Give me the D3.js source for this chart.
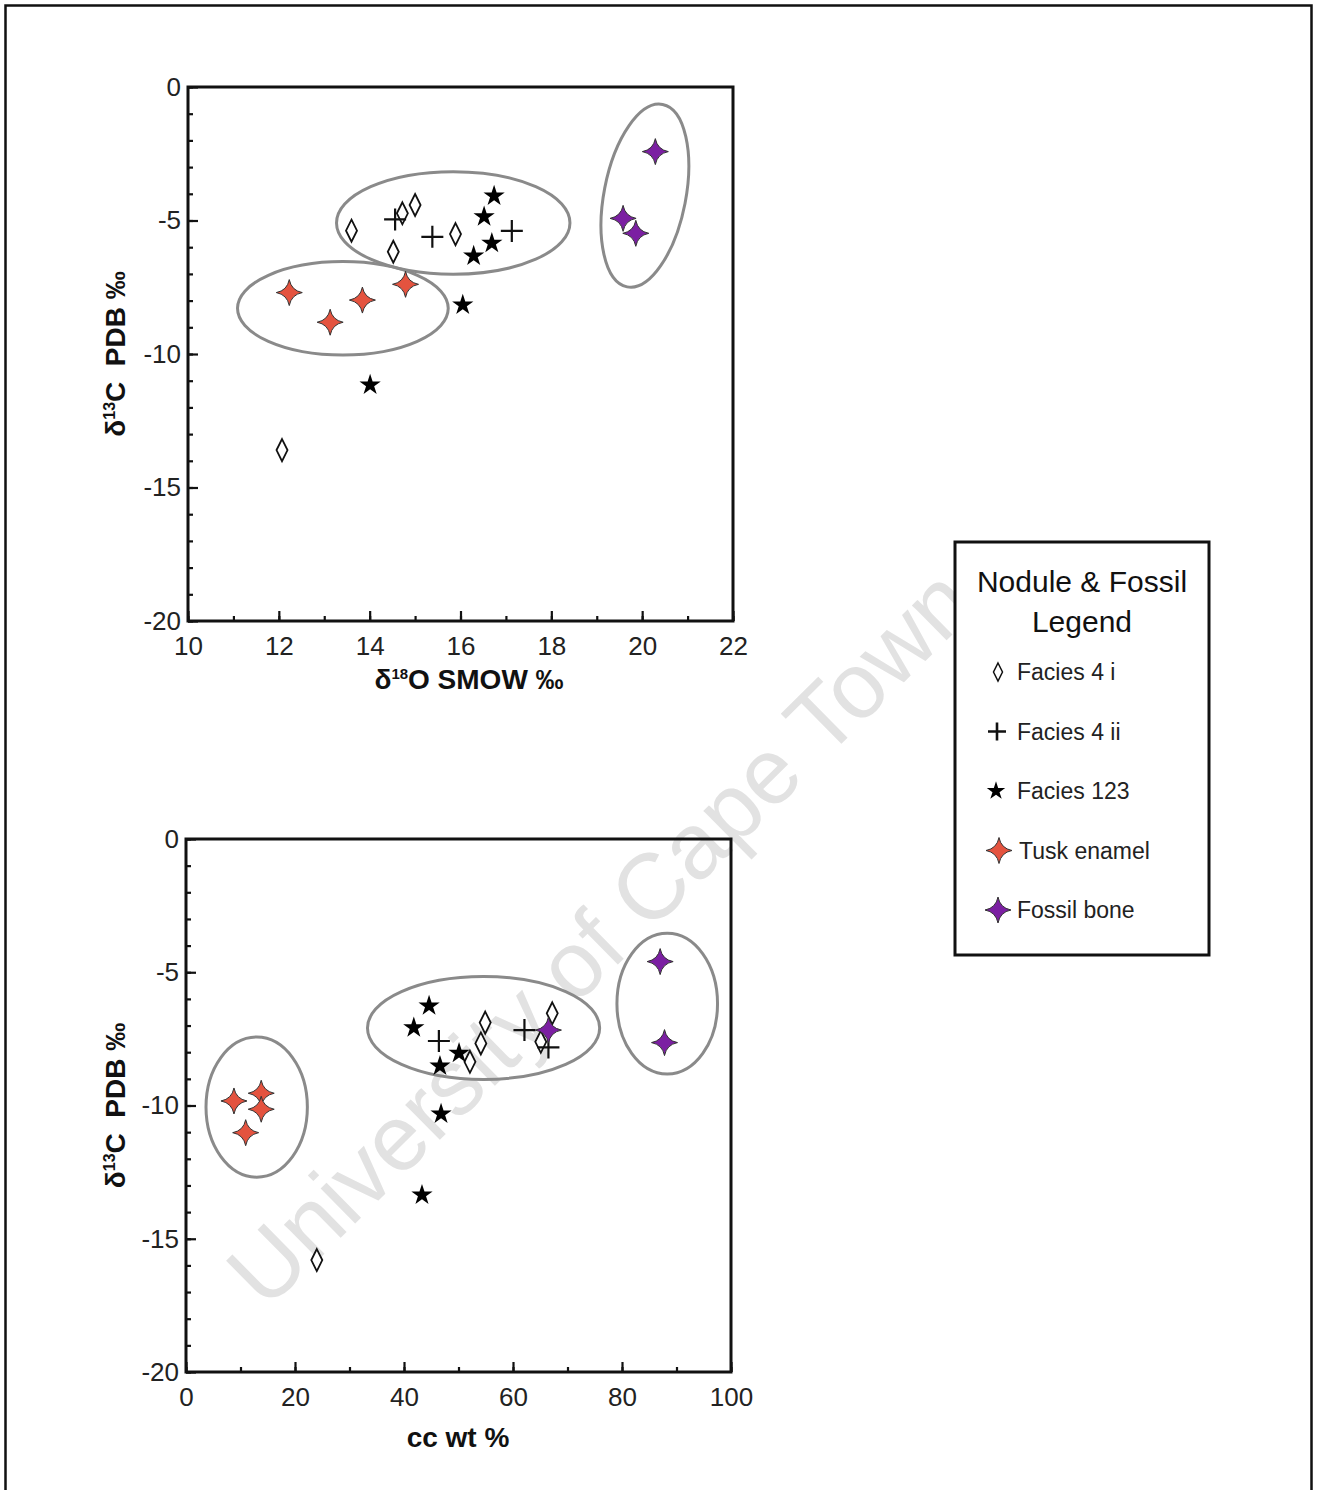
<!DOCTYPE html>
<html><head><meta charset="utf-8">
<script src="https://cdn.jsdelivr.net/npm/d3@7"></script>
<style>body{margin:0;background:#fff}svg{display:block}text{font-family:"Liberation Sans",Arial,sans-serif}</style>
</head><body><svg id="c" width="1317" height="1490"></svg>
<script>
// ---------- DATA ----------
// Top chart: d18O (SMOW) vs d13C (PDB)
const topFacies4i_O   = [13.6, 14.52, 14.72, 15.0, 15.89, 12.07];
const topFacies4i_C   = [-5.38, -6.17, -4.73, -4.42, -5.51, -13.6];
const topFacies4ii_O  = [14.56, 15.38, 17.13];
const topFacies4ii_C  = [-4.96, -5.61, -5.39];
const topFacies123_O  = [16.74, 16.52, 16.69, 16.29, 16.05, 14.01];
const topFacies123_C  = [-4.08, -4.86, -5.85, -6.33, -8.16, -11.16];
const topTusk_O       = [12.23, 13.84, 13.13, 14.79];
const topTusk_C       = [-7.70, -7.98, -8.81, -7.39];
const topBone_O       = [20.29, 19.58, 19.86];
const topBone_C       = [-2.42, -4.92, -5.48];
// Bottom chart: cc wt % vs d13C (PDB)
const botFacies4i_cc  = [54.9, 54.1, 52.1, 67.2, 65.1, 24.0];
const botFacies4i_C   = [-6.89, -7.67, -8.36, -6.54, -7.61, -15.8];
const botFacies4ii_cc = [46.4, 62.1, 66.5];
const botFacies4ii_C  = [-7.58, -7.17, -7.82];
const botFacies123_cc = [44.6, 41.8, 50.1, 46.6, 46.8, 43.3];
const botFacies123_C  = [-6.26, -7.08, -8.04, -8.52, -10.32, -13.36];
const botTusk_cc      = [8.8, 13.8, 13.8, 10.95];
const botTusk_C       = [-9.83, -9.54, -10.14, -11.02];
const botBone_cc      = [87.0, 87.8, 66.5];
const botBone_C       = [-4.6, -7.64, -7.17];
// Grouping ellipses: [centerX, centerY, radiusX, radiusY, rotationDeg] in data units
const topEllipses = [[15.84, -5.09, 2.57, 1.92, 0], [13.41, -8.29, 2.32, 1.75, 0], [20.06, -4.07, 0.90, 3.48, 11]];
const botEllipses = [[54.6, -7.09, 21.3, 1.93, 0], [12.97, -10.06, 9.3, 2.63, 0], [88.3, -6.18, 9.23, 2.64, 0]];
// Axes
const topXTicks = [10, 12, 14, 16, 18, 20, 22];
const botXTicks = [0, 20, 40, 60, 80, 100];
const yTicks = [0, -5, -10, -15, -20];
const legendLabels = ["Facies 4 i", "Facies 4 ii", "Facies 123", "Tusk enamel", "Fossil bone"];
const legendTitle = ["Nodule & Fossil", "Legend"];
const watermark = "University of Cape Town";

// ---------- DRAW ----------
const svg = d3.select("#c");
const RED = "#e4533f", PURPLE = "#7b1fa2";

// outer border
svg.append("path").attr("d", "M5.5,1490 V5.5 H1311.5 V1490").attr("fill", "none").attr("stroke", "#111").attr("stroke-width", 2.5);

// watermark
svg.append("text").text(watermark)
  .attr("transform", "translate(600,937) rotate(-44.6)")
  .attr("text-anchor", "middle").attr("dominant-baseline", "central")
  .attr("font-size", 93).attr("fill", "#e2e2e2");

const diamondPath = (w, h) => `M0,${-h/2}L${w/2},0L0,${h/2}L${-w/2},0Z`;
const crossPath = (s) => `M${-s},0H${s}M0,${-s}V${s}`;
const star4Path = (r) => { const k = 0.16*r; return `M0,${-r}Q${k},${-k} ${r},0Q${k},${k} 0,${r}Q${-k},${k} ${-r},0Q${-k},${-k} 0,${-r}Z`; };
const star5 = d3.symbol().type(d3.symbolStar);

function drawChart(cfg) {
  const g = svg.append("g");
  const x = cfg.x, y = cfg.y;
  const [x0, x1] = x.range(), [y0, y1] = y.range(); // y0 bottom, y1 top
  // ellipses
  g.selectAll("ellipse.grp").data(cfg.ellipses).join("ellipse")
    .attr("transform", d => `translate(${x(d[0])},${y(d[1])}) rotate(${d[4]})`)
    .attr("rx", d => x(x.domain()[0] + d[2]) - x0)
    .attr("ry", d => y(y.domain()[1] - d[3]) - y1)
    .attr("fill", "none").attr("stroke", "#8a8a8a").attr("stroke-width", 3);
  // markers
  const pts = (xs, ys) => xs.map((v, i) => [v, ys[i]]);
  g.selectAll(null).data(pts(cfg.f4i[0], cfg.f4i[1])).join("path")
    .attr("transform", d => `translate(${x(d[0])},${y(d[1])})`)
    .attr("d", diamondPath(11, 22)).attr("fill", "#fff").attr("stroke", "#111").attr("stroke-width", 1.8);
  g.selectAll(null).data(pts(cfg.f4ii[0], cfg.f4ii[1])).join("path")
    .attr("transform", d => `translate(${x(d[0])},${y(d[1])})`)
    .attr("d", crossPath(11)).attr("fill", "none").attr("stroke", "#111").attr("stroke-width", 2.2);
  g.selectAll(null).data(pts(cfg.f123[0], cfg.f123[1])).join("path")
    .attr("transform", d => `translate(${x(d[0])},${y(d[1])})`)
    .attr("d", star5.size(140)()).attr("fill", "#000");
  g.selectAll(null).data(pts(cfg.tusk[0], cfg.tusk[1])).join("path")
    .attr("transform", d => `translate(${x(d[0])},${y(d[1])})`)
    .attr("d", star4Path(13)).attr("fill", RED).attr("stroke", "#333").attr("stroke-width", 1);
  g.selectAll(null).data(pts(cfg.bone[0], cfg.bone[1])).join("path")
    .attr("transform", d => `translate(${x(d[0])},${y(d[1])})`)
    .attr("d", star4Path(13)).attr("fill", PURPLE).attr("stroke", "#333").attr("stroke-width", 1);

  // minor ticks
  const ax = g.append("g");
  ax.append("g").attr("transform", `translate(${x0},0)`)
    .call(d3.axisLeft(y).tickValues(d3.range(-20, 1, 1)).tickSize(-5).tickFormat(""))
    .call(s => s.select(".domain").remove());
  ax.append("g").attr("transform", `translate(0,${y0})`)
    .call(d3.axisBottom(x).tickValues(cfg.minorX).tickSize(-5).tickFormat(""))
    .call(s => s.select(".domain").remove());
  // major ticks + labels
  const ly = ax.append("g").attr("transform", `translate(${x0},0)`)
    .call(d3.axisLeft(y).tickValues(yTicks).tickSize(-10).tickPadding(7).tickFormat(d => d3.format("d")(d).replace("−", "-")));
  ly.select(".domain").remove();
  const lx = ax.append("g").attr("transform", `translate(0,${y0})`)
    .call(d3.axisBottom(x).tickValues(cfg.xTicks).tickSize(-10).tickPadding(16).tickFormat(d3.format("d")));
  lx.select(".domain").remove();
  ax.selectAll(".tick line").attr("stroke", "#111").attr("stroke-width", 2.2);
  ax.selectAll(".tick text").attr("font-size", 26).attr("fill", "#222").attr("font-family", '"Liberation Sans",Arial,sans-serif');
  lx.selectAll(".tick text").attr("dy", "0.71em");
  // frame
  g.append("rect").attr("x", x0).attr("y", y1).attr("width", x1 - x0).attr("height", y0 - y1)
    .attr("fill", "none").attr("stroke", "#111").attr("stroke-width", 3);

  // y label
  const yl = g.append("text").attr("transform", `translate(${cfg.yLabelX},${(y0 + y1) / 2}) rotate(-90)`)
    .attr("text-anchor", "middle").attr("font-size", 28).attr("font-weight", "bold").attr("fill", "#111");
  yl.append("tspan").text("δ");
  yl.append("tspan").text("13").attr("font-size", 16).attr("dy", -10);
  yl.append("tspan").text("C  PDB ‰").attr("dy", 10).style("white-space", "pre");
  // x label
  const xl = g.append("text").attr("x", cfg.xLabelX).attr("y", cfg.xLabelY)
    .attr("text-anchor", "middle").attr("font-size", 28).attr("font-weight", "bold").attr("fill", "#111");
  cfg.xLabel(xl);
}

drawChart({
  x: d3.scaleLinear([10, 22], [188, 733]),
  y: d3.scaleLinear([-20, 0], [621, 87]),
  xTicks: topXTicks, minorX: d3.range(10, 23, 1),
  ellipses: topEllipses,
  f4i: [topFacies4i_O, topFacies4i_C], f4ii: [topFacies4ii_O, topFacies4ii_C],
  f123: [topFacies123_O, topFacies123_C], tusk: [topTusk_O, topTusk_C], bone: [topBone_O, topBone_C],
  yLabelX: 125, xLabelX: 469, xLabelY: 689,
  xLabel: t => { t.append("tspan").text("δ"); t.append("tspan").text("18").attr("font-size", 15).attr("dy", -10);
                 t.append("tspan").text("O SMOW ‰").attr("dy", 10); }
});
drawChart({
  x: d3.scaleLinear([0, 100], [186, 731]),
  y: d3.scaleLinear([-20, 0], [1372, 839]),
  xTicks: botXTicks, minorX: d3.range(0, 101, 10),
  ellipses: botEllipses,
  f4i: [botFacies4i_cc, botFacies4i_C], f4ii: [botFacies4ii_cc, botFacies4ii_C],
  f123: [botFacies123_cc, botFacies123_C], tusk: [botTusk_cc, botTusk_C], bone: [botBone_cc, botBone_C],
  yLabelX: 125, xLabelX: 458, xLabelY: 1447,
  xLabel: t => t.text("cc wt %")
});

// ---------- LEGEND ----------
const lg = svg.append("g");
lg.append("rect").attr("x", 955).attr("y", 542).attr("width", 254).attr("height", 413)
  .attr("fill", "#fff").attr("stroke", "#111").attr("stroke-width", 3);
lg.selectAll("text.t").data(legendTitle).join("text")
  .attr("x", 1082).attr("y", (d, i) => 592 + i * 40).attr("text-anchor", "middle")
  .attr("font-size", 30).attr("fill", "#111").text(d => d);
const ly0 = 672, lstep = 59.5;
const legendSyms = [
  s => s.append("path").attr("d", diamondPath(9, 18)).attr("fill", "#fff").attr("stroke", "#111").attr("stroke-width", 1.5),
  s => s.append("path").attr("d", crossPath(9)).attr("fill", "none").attr("stroke", "#111").attr("stroke-width", 2.6),
  s => s.append("path").attr("d", star5.size(105)()).attr("fill", "#000"),
  s => s.append("path").attr("d", star4Path(13)).attr("fill", RED).attr("stroke", "#333").attr("stroke-width", 1),
  s => s.append("path").attr("d", star4Path(13)).attr("fill", PURPLE).attr("stroke", "#333").attr("stroke-width", 1)
];
const lx0 = [998, 997, 996, 999, 998];
legendLabels.forEach((lab, i) => {
  const yy = ly0 + i * lstep;
  legendSyms[i](lg.append("g").attr("transform", `translate(${lx0[i]},${yy})`));
  lg.append("text").attr("x", i === 3 ? 1019 : 1017).attr("y", yy).attr("dy", "0.35em")
    .attr("font-size", 23).attr("fill", "#222").text(lab);
});
</script></body></html>
